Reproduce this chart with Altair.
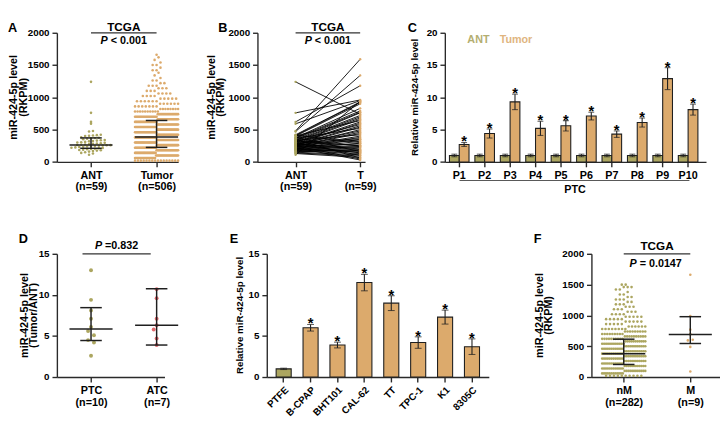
import altair as alt
import pandas as pd

FONT = "Liberation Sans"
INK = "#1f1f1f"
OLIVE = "#aca660"
TAN = "#dcaa6c"
RED = "#e2696e"
OLIVE_TXT = "#b4ae70"
TAN_TXT = "#e0b57f"

# ---------------- data ----------------
# A/B  TCGA miR-424-5p (RKPM) in adjacent normal tissue (n=59)
ant_values = [1240, 760, 620, 590, 480, 470, 420, 415, 410, 405,
              400, 380, 375, 370, 365, 360, 350, 340, 335, 330,
              325, 320, 310, 305, 300, 295, 290, 285, 280, 275,
              270, 265, 262, 260, 258, 255, 250, 248, 245, 240,
              235, 230, 225, 220, 215, 210, 205, 200, 195, 190,
              185, 180, 175, 170, 160, 150, 140, 130, 110]
# B  paired tumour values, same order as ant_values
t_paired_values = [740, 960, 1180, 950, 1590, 1340, 930, 300, 920, 640,
                   900, 160, 830, 790, 520, 770, 60, 760, 420, 720,
                   250, 700, 580, 680, 100, 660, 360, 620, 200, 600,
                   480, 560, 140, 540, 340, 500, 45, 460, 440, 280,
                   400, 230, 380, 30, 350, 320, 150, 290, 260, 240,
                   190, 220, 180, 130, 170, 110, 90, 70, 940]
# A  tumour swarm (n=506): row level (RKPM) and number of dots in the row
tumor_row_levels = [20, 60, 100, 140, 180, 220, 260, 300, 340, 380, 420, 460, 500, 540,
                    580, 620, 660, 700, 740, 780, 820, 860, 900, 940, 980, 1020, 1060,
                    1100, 1140, 1180, 1220, 1260, 1300, 1340, 1380, 1420, 1460, 1500,
                    1540, 1580, 1620, 1660]
tumor_row_counts = [16, 21, 23, 24, 25, 25, 25, 25, 25, 25, 25, 24, 24, 23,
                    23, 21, 20, 19, 18, 10, 8, 7, 6, 6, 5, 4, 4,
                    3, 3, 3, 2, 2, 1, 1, 1, 2, 1, 2,
                    1, 1, 1, 1]
a_groups = ["ANT", "Tumor"]
a_n = [59, 506]
a_median = [262, 387]
a_q1 = [211, 225]
a_q3 = [372, 642]
b_groups = ["ANT", "T"]
b_n = [59, 59]

# C  qRT-PCR, 10 PTC patients
c_patients = ["P1", "P2", "P3", "P4", "P5", "P6", "P7", "P8", "P9", "P10"]
c_ant_mean = [1.0, 1.0, 1.0, 1.0, 1.0, 1.0, 1.0, 1.0, 1.0, 1.0]
c_ant_sd = [0.2, 0.2, 0.2, 0.2, 0.2, 0.2, 0.2, 0.2, 0.2, 0.2]
c_tumor_mean = [2.7, 4.4, 9.3, 5.2, 5.6, 7.1, 4.3, 6.1, 12.9, 8.1]
c_tumor_sd = [0.3, 0.7, 1.2, 1.1, 0.8, 0.6, 0.5, 0.7, 1.7, 0.85]

# D  fold change Tumor/ANT
d_groups = ["PTC", "ATC"]
d_n = [10, 7]
d_ptc = [13.0, 9.4, 8.1, 7.1, 6.1, 5.6, 5.1, 4.5, 4.2, 2.6]
d_atc = [10.7, 9.6, 7.1, 6.3, 5.8, 4.7, 3.9]
d_median = [5.85, 6.3]
d_low = [4.45, 3.9]
d_high = [8.45, 10.75]

# E  cell lines
e_lines = ["PTFE", "B-CPAP", "BHT101", "CAL-62", "TT", "TPC-1", "K1", "8305C"]
e_kind = ["normal", "cancer", "cancer", "cancer", "cancer", "cancer", "cancer", "cancer"]
e_mean = [1.0, 6.0, 3.9, 11.5, 9.0, 4.2, 7.3, 3.7]
e_sd = [0.08, 0.4, 0.35, 1.0, 0.9, 0.7, 0.85, 0.95]

# F  TCGA, non-metastatic vs metastatic
f_groups = ["nM", "M"]
f_n = [282, 9]
nm_row_levels = [20, 60, 100, 140, 180, 220, 260, 300, 340, 380, 420, 460, 500, 540,
                 580, 620, 660, 700, 740, 780, 820, 860, 900, 940, 980, 1020, 1060,
                 1100, 1140, 1180, 1220, 1260, 1300, 1340, 1380, 1420, 1460, 1500]
nm_row_counts = [10, 12, 12, 12, 12, 12, 12, 12, 12, 12, 12, 12, 12, 12,
                 11, 10, 10, 9, 9, 8, 6, 5, 5, 5, 5, 4, 3,
                 3, 3, 3, 2, 3, 2, 2, 1, 2, 3, 2]
m_values = [1660, 990, 770, 700, 690, 605, 595, 490, 90]
f_median = [380, 690]
f_q1 = [205, 545]
f_q3 = [615, 980]

# ---------------- helpers ----------------
K = 1.04  # layout scale (all pixel sizes below are given before scaling)


def s(v):
    return round(v * K, 2)


EM = {"P": .667, " ": .278, "<": .584, "=": .584, ".": .278}


def text_w(txt, size):
    return sum(EM.get(ch, .556) for ch in txt) * size


def expand_rows(levels, counts):
    out = []
    for v, n in zip(levels, counts):
        out += [v] * n
    return out


def swarm(values, center, px_unit, row_units, half_px=22.0, pitch_px=4.0):
    rows = {}
    for v in values:
        rows.setdefault(int(round(v / row_units)), []).append(v)
    pts = []
    for key in sorted(rows):
        vs = sorted(rows[key])
        n = len(vs)
        pitch = pitch_px if n < 2 else min(pitch_px, 2 * half_px / (n - 1))
        for i, v in enumerate(vs):
            pts.append((center + (i - (n - 1) / 2) * pitch / px_unit, v))
    return pts


def alternate(values, center, px_unit_x, px_unit_y, near_px=6.0, step_px=3.0):
    pts, prev_v, prev_off = [], None, 0.0
    for v in sorted(values, reverse=True):
        if prev_v is not None and (prev_v - v) * px_unit_y < near_px:
            off = -prev_off if prev_off != 0 else -step_px
        else:
            off = 0.0
        pts.append((center + off / px_unit_x, v))
        prev_v, prev_off = v, off
    return pts


def cat_expr(groups, ns):
    e = "''"
    for i in reversed(range(len(groups))):
        e = f"datum.value == {i} ? ['{groups[i]}', '(n={ns[i]})'] : " + e
    return e


def make_x(dom, groups, ns):
    def f(field):
        return alt.X(f"{field}:Q", scale=alt.Scale(domain=dom, nice=False, zero=False),
                     axis=alt.Axis(values=list(range(len(groups))), title=None, labelFlush=False,
                                   labelExpr=cat_expr(groups, ns), labelFontSize=s(11)))
    return f


def make_y(dom, ticks):
    def f(field):
        return alt.Y(f"{field}:Q", scale=alt.Scale(domain=dom, nice=False),
                     axis=alt.Axis(values=ticks, title=None, format="d"))
    return f


def one(**kw):
    return pd.DataFrame({k: [v] for k, v in kw.items()})


def letter(ch, x_px, y_px):
    return alt.Chart(one(t=ch)).mark_text(
        text=ch, font=FONT, fontSize=s(13), fontWeight="bold", align="left",
        baseline="alphabetic", color="black").encode(x=alt.value(s(x_px)), y=alt.value(s(y_px)))


def y_title(lines, x_px, h, size=11, lh=9.5):
    return alt.Chart(one(t="title")).mark_text(
        text=lines, font=FONT, fontSize=s(size), lineHeight=s(lh), fontWeight="bold", angle=270,
        align="center", baseline="top", color="black").encode(
        x=alt.value(s(x_px)), y=alt.value(s(h / 2)))


def anchor(x_px, y1_px, y2_px):
    # invisible guide that fixes the panel's outer bounds for the layout
    return alt.Chart(one(t="anchor")).mark_rule(opacity=0, strokeWidth=0.01).encode(
        x=alt.value(s(x_px)), y=alt.value(s(y1_px)), y2=alt.value(s(y2_px)))


def label_text(xe, xc, y_px, txt, size=12):
    return alt.Chart(one(x=xc)).mark_text(
        text=txt, font=FONT, fontSize=s(size), fontWeight="bold", align="center",
        baseline="alphabetic", color="black").encode(x=xe("x"), y=alt.value(s(y_px)))


def p_layers(xe, xc, y_px, rest, size=11):
    # rest is drawn without its leading blank, shifted by the blank's width instead
    fs = s(size)
    wp = EM["P"] * fs
    split = -(wp + text_w(rest, fs)) / 2 + wp
    lead = len(rest) - len(rest.lstrip(" "))
    d = one(x=xc)
    p = alt.Chart(d).mark_text(text="P", font=FONT, fontSize=fs, fontWeight="bold",
                               fontStyle="italic", align="right", baseline="alphabetic",
                               dx=split, color="black").encode(x=xe("x"), y=alt.value(s(y_px)))
    r = alt.Chart(d).mark_text(text=rest.lstrip(" "), font=FONT, fontSize=fs, fontWeight="bold",
                               align="left", baseline="alphabetic",
                               dx=split + lead * EM[" "] * fs,
                               color="black").encode(x=xe("x"), y=alt.value(s(y_px)))
    return [p, r]


def bracket(xe, ye, x1, x2, ytop):
    d = pd.DataFrame({"x": [x1], "x2": [x2], "y": [ytop]})
    return alt.Chart(d).mark_rule(color="#333333", strokeWidth=s(1.3)).encode(
        x=xe("x"), x2="x2", y=ye("y"))


def stats(xe, ye, med, lo, hi, half_med, half_cap):
    rows = []
    for c, m, l, h in zip(range(len(med)), med, lo, hi):
        rows += [dict(x=c - half_med, x2=c + half_med, y=m, y2=m),
                 dict(x=c - half_cap, x2=c + half_cap, y=l, y2=l),
                 dict(x=c - half_cap, x2=c + half_cap, y=h, y2=h),
                 dict(x=c, x2=c, y=l, y2=h)]
    return alt.Chart(pd.DataFrame(rows)).mark_rule(color=INK, strokeWidth=s(1.5)).encode(
        x=xe("x"), x2="x2", y=ye("y"), y2="y2")


def dots(xe, ye, pts_by_group, colors, size):
    rows = []
    for col, pts in zip(colors, pts_by_group):
        rows += [dict(x=x, y=y, c=col) for x, y in pts]
    return alt.Chart(pd.DataFrame(rows)).mark_circle(size=round(size * K * K, 2), opacity=1).encode(
        x=xe("x"), y=ye("y"), color=alt.Color("c:N", scale=None, legend=None))


H1 = 132
H2 = 126
RKPM_TICKS = [0, 500, 1000, 1500, 2000]
RKPM_TITLE = ["miR-424-5p level", "(RKPM)"]

# ---------------- Panel A ----------------
A_PX = 67.0
ax_ = make_x([-0.52, 1.33], a_groups, a_n)
ay_ = make_y([0, 2000], RKPM_TICKS)
pa = [
    dots(ax_, ay_, [swarm(ant_values, 0, A_PX, 40),
                    swarm(expand_rows(tumor_row_levels, tumor_row_counts), 1, A_PX, 40)],
         [OLIVE, TAN], 7),
    stats(ax_, ay_, a_median, a_q1, a_q3, 22 / A_PX, 11 / A_PX),
    bracket(ax_, ay_, 0, 1, 2000),
    label_text(ax_, 0.5, -2, "TCGA"),
    *p_layers(ax_, 0.5, 11, " < 0.001"),
    y_title(RKPM_TITLE, -49, H1),
    letter("A", -50, -1),
    anchor(-50, -12, 172),
]
panelA = alt.layer(*pa).properties(width=s(124), height=s(H1))

# ---------------- Panel B ----------------
B_PX = 66.0
bx_ = make_x([-0.59, 1.076], b_groups, b_n)
by_ = make_y([0, 2000], RKPM_TICKS)
line_rows = []
for i, (a, t) in enumerate(zip(ant_values, t_paired_values)):
    line_rows += [dict(pair=i, x=0, y=a), dict(pair=i, x=1, y=t)]
bl = alt.Chart(pd.DataFrame(line_rows)).mark_line(color="black", strokeWidth=s(0.9)).encode(
    x=bx_("x"), y=by_("y"), detail="pair:N", order="x:Q")
pb = [
    bl,
    dots(bx_, by_, [[(0, v) for v in ant_values], [(1, v) for v in t_paired_values]],
         [OLIVE, TAN], 6),
    bracket(bx_, by_, 0, 1, 2000),
    label_text(bx_, 0.5, -2, "TCGA"),
    *p_layers(bx_, 0.5, 11, " < 0.001"),
    y_title(RKPM_TITLE, -52, H1),
    letter("B", -40, -1),
]
panelB = alt.layer(*pb).properties(width=s(110), height=s(H1))

# ---------------- Panel C ----------------
c_df = pd.DataFrame({
    "patient": c_patients * 2,
    "series": ["ANT"] * len(c_patients) + ["Tumor"] * len(c_patients),
    "mean": c_ant_mean + c_tumor_mean,
    "sd": c_ant_sd + c_tumor_sd,
})
c_df["lo"] = c_df["mean"] - c_df["sd"]
c_df["hi"] = c_df["mean"] + c_df["sd"]
c_df["c"] = c_df["series"].map({"ANT": OLIVE, "Tumor": TAN})
c_caps = pd.concat([c_df.assign(v=c_df["lo"]), c_df.assign(v=c_df["hi"])])
xC = alt.X("patient:N", sort=c_patients,
           scale=alt.Scale(paddingInner=0.23, paddingOuter=0.25, align=0.36),
           axis=alt.Axis(title=None, labelAngle=0, labelFontSize=s(11)))
xoC = alt.XOffset("series:N", sort=["ANT", "Tumor"], scale=alt.Scale(paddingInner=0, paddingOuter=0))
cy_ = make_y([0, 20], [0, 5, 10, 15, 20])
pc = [
    alt.Chart(c_df).mark_bar(stroke=INK, strokeWidth=s(1.1)).encode(
        x=xC, xOffset=xoC, y=cy_("mean"), color=alt.Color("c:N", scale=None, legend=None)),
    alt.Chart(c_df).mark_rule(color=INK, strokeWidth=s(1.1)).encode(
        x=xC, xOffset=xoC, y=cy_("lo"), y2="hi"),
    alt.Chart(c_caps).mark_tick(color=INK, thickness=s(1.1), size=s(6), orient="horizontal").encode(
        x=xC, xOffset=xoC, y=cy_("v")),
    alt.Chart(c_df[c_df["series"] == "Tumor"]).mark_text(
        text="*", font=FONT, fontSize=s(15), fontWeight="bold", baseline="alphabetic", dy=s(4),
        color="black").encode(x=xC, xOffset=xoC, y=cy_("hi")),
    alt.Chart(one(t="ANT")).mark_text(
        text="ANT", font=FONT, fontSize=s(11), fontWeight="bold", align="left",
        baseline="alphabetic", color=OLIVE_TXT).encode(x=alt.value(s(23)), y=alt.value(s(10))),
    alt.Chart(one(t="Tumor")).mark_text(
        text="Tumor", font=FONT, fontSize=s(11), fontWeight="bold", align="left",
        baseline="alphabetic", color=TAN_TXT).encode(x=alt.value(s(56)), y=alt.value(s(10))),
    alt.Chart(one(t="PTC")).mark_rule(color="#555555", strokeWidth=s(1)).encode(
        x=alt.value(s(15)), x2=alt.value(s(250)), y=alt.value(s(H1 + 19))),
    alt.Chart(one(t="PTC")).mark_text(
        text="PTC", font=FONT, fontSize=s(11), fontWeight="bold", align="center",
        baseline="alphabetic", color="black").encode(x=alt.value(s(133)), y=alt.value(s(H1 + 32))),
    y_title("Relative miR-424-5p level", -35, H1, size=10),
    letter("C", -38, -1),
]
panelC = alt.layer(*pc).properties(width=s(267), height=s(H1))

# ---------------- Panel D ----------------
D_PX = 67.0
D_PY = H2 / 15.0
dx_ = make_x([-0.52, 1.12], d_groups, d_n)
dy_ = make_y([0, 15], [0, 5, 10, 15])
pd_ = [
    dots(dx_, dy_, [alternate(d_ptc, 0, D_PX, D_PY), alternate(d_atc, 1, D_PX, D_PY)],
         [OLIVE, RED], 16),
    stats(dx_, dy_, d_median, d_low, d_high, 22 / D_PX, 11 / D_PX),
    bracket(dx_, dy_, -0.13, 0.91, 15),
    *p_layers(dx_, 0.39, -5, " =0.832"),
    y_title(["miR-424-5p level", "(Tumor/ANT)"], -38.5, H2),
    letter("D", -39, -11),
    anchor(-39, -28, 60),
]
panelD = alt.layer(*pd_).properties(width=s(110), height=s(H2))

# ---------------- Panel E ----------------
e_df = pd.DataFrame({"line": e_lines, "kind": e_kind, "mean": e_mean, "sd": e_sd})
e_df["lo"] = e_df["mean"] - e_df["sd"]
e_df["hi"] = e_df["mean"] + e_df["sd"]
e_df["c"] = e_df["kind"].map({"normal": OLIVE, "cancer": TAN})
e_caps = pd.concat([e_df.assign(v=e_df["lo"]), e_df.assign(v=e_df["hi"])])
xE = alt.X("line:N", sort=e_lines, scale=alt.Scale(paddingInner=0.44, paddingOuter=0.347),
           axis=alt.Axis(title=None, labelAngle=-45, labelFontSize=s(10)))
ey_ = make_y([0, 15], [0, 5, 10, 15])
pe = [
    alt.Chart(e_df).mark_bar(stroke=INK, strokeWidth=s(1.1)).encode(
        x=xE, y=ey_("mean"), color=alt.Color("c:N", scale=None, legend=None)),
    alt.Chart(e_df).mark_rule(color=INK, strokeWidth=s(1.1)).encode(x=xE, y=ey_("lo"), y2="hi"),
    alt.Chart(e_caps).mark_tick(color=INK, thickness=s(1.1), size=s(7), orient="horizontal").encode(
        x=xE, y=ey_("v")),
    alt.Chart(e_df[e_df["kind"] == "cancer"]).mark_text(
        text="*", font=FONT, fontSize=s(15), fontWeight="bold", baseline="alphabetic", dy=s(4),
        color="black").encode(x=xE, y=ey_("hi")),
    y_title("Relative miR-424-5p level", -32, H2, size=10),
    letter("E", -38, -11),
]
panelE = alt.layer(*pe).properties(width=s(227), height=s(H2))

# ---------------- Panel F ----------------
F_PX = 68.0
fx_ = make_x([-0.485, 1.44], f_groups, f_n)
fy_ = make_y([0, 2000], RKPM_TICKS)
pf = [
    dots(fx_, fy_, [swarm(expand_rows(nm_row_levels, nm_row_counts), 0, F_PX, 40),
                    swarm(m_values, 1, F_PX, 40, pitch_px=5.0)],
         [OLIVE, TAN], 7),
    stats(fx_, fy_, f_median, f_q1, f_q3, 22 / F_PX, 11 / F_PX),
    bracket(fx_, fy_, 0, 1, 2000),
    label_text(fx_, 0.5, -4, "TCGA"),
    *p_layers(fx_, 0.48, 13, " = 0.0147"),
    y_title(RKPM_TITLE, -58, H2),
    letter("F", -59, -11),
]
panelF = alt.layer(*pf).properties(width=s(131), height=s(H2))

row1 = alt.hconcat(panelA, panelB, panelC, spacing=s(81), bounds="flush")
row2 = alt.hconcat(panelD, panelE, panelF, spacing=s(104), bounds="flush")

chart = alt.vconcat(row1, row2, spacing=s(25)).properties(
    padding={"left": 0, "top": 0, "right": 0, "bottom": 0}
).configure_view(stroke=None).configure_axis(
    grid=False, domainColor="#2a2a2a", domainWidth=s(1.4), tickColor="#2a2a2a",
    tickWidth=s(1.4), tickSize=s(5), labelPadding=s(3), labelFont=FONT,
    labelFontWeight="bold", labelFontSize=s(10), labelColor="black", labelLineHeight=s(12)
)

chart.save("out.html", embed_options={"renderer": "svg", "actions": False})
